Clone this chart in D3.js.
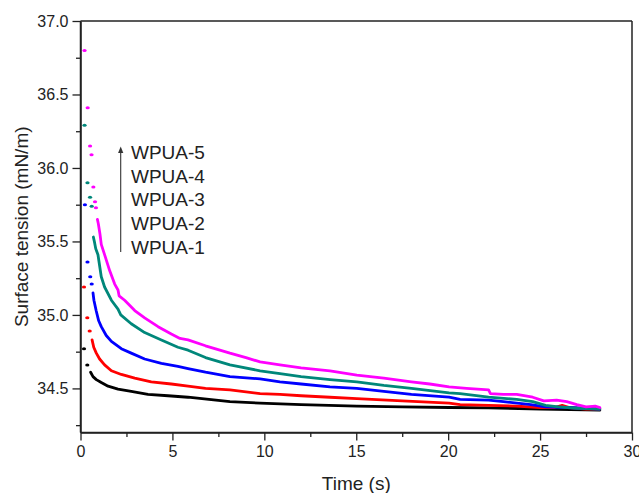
<!DOCTYPE html>
<html>
<head>
<meta charset="utf-8">
<script src="https://cdn.jsdelivr.net/npm/d3@7"></script>
<style>
  html, body { margin: 0; padding: 0; background: #fff; }
  svg { display: block; font-family: "Liberation Sans", Arial, sans-serif; }
</style>
</head>
<body>
<svg id="chart" width="639" height="493"></svg>
<script>
// ---- Data ----
const seriesNames = ["WPUA-1", "WPUA-2", "WPUA-3", "WPUA-4", "WPUA-5"];
const seriesColors = ["#000000", "#ff0000", "#0000ff", "#00877a", "#ff00ff"];

const xTicks = [0, 5, 10, 15, 20, 25, 30];
const yTicks = [34.5, 35.0, 35.5, 36.0, 36.5, 37.0];

// sparse early points (drawn as separate dots)
const wpua1DotT = [0.19, 0.37];
const wpua1DotV = [34.77, 34.66];
const wpua2DotT = [0.19, 0.37, 0.50];
const wpua2DotV = [35.19, 34.98, 34.89];
const wpua3DotT = [0.24, 0.38, 0.53, 0.61];
const wpua3DotV = [35.75, 35.36, 35.26, 35.21];
const wpua4DotT = [0.22, 0.38, 0.52, 0.61];
const wpua4DotV = [36.29, 35.90, 35.80, 35.74];
const wpua5DotT = [0.22, 0.39, 0.52, 0.60, 0.70, 0.79, 0.84];
const wpua5DotV = [36.80, 36.41, 36.15, 36.09, 35.87, 35.77, 35.73];

// dense traces
const wpua1T = [0.55, 0.68, 0.86, 1.13, 1.50, 2.04, 2.76, 3.67, 4.76, 5.85, 8.13, 9.77, 12.0, 15.03, 17.5, 20.05, 22.2, 25.05, 28.25];
const wpua1V = [34.61, 34.58, 34.56, 34.54, 34.515, 34.495, 34.48, 34.46, 34.45, 34.44, 34.41, 34.40, 34.39, 34.38, 34.375, 34.37, 34.368, 34.36, 34.352];

const wpua2T = [0.63, 0.72, 0.86, 1.04, 1.31, 1.68, 2.22, 2.95, 3.85, 4.94, 5.85, 6.80, 8.13, 9.77, 10.85, 12.0, 13.57, 15.03, 17.5, 20.05, 20.65, 22.2, 23.7, 25.0, 25.8, 26.2, 26.6, 27.5, 28.25];
const wpua2V = [34.83, 34.78, 34.74, 34.70, 34.66, 34.62, 34.595, 34.57, 34.545, 34.53, 34.515, 34.50, 34.49, 34.465, 34.46, 34.45, 34.44, 34.43, 34.415, 34.40, 34.39, 34.385, 34.38, 34.37, 34.37, 34.385, 34.37, 34.36, 34.36];

const wpua3T = [0.68, 0.73, 0.85, 0.99, 1.13, 1.40, 1.68, 2.22, 2.76, 3.49, 4.40, 5.30, 5.85, 6.80, 8.13, 9.77, 10.85, 12.0, 13.57, 15.03, 16.5, 18.0, 20.05, 20.65, 22.2, 23.0, 24.5, 25.3, 26.5, 28.25];
const wpua3V = [35.15, 35.10, 35.03, 34.96, 34.92, 34.86, 34.82, 34.77, 34.74, 34.70, 34.67, 34.65, 34.635, 34.61, 34.58, 34.565, 34.545, 34.53, 34.51, 34.50, 34.48, 34.46, 34.44, 34.425, 34.42, 34.41, 34.39, 34.375, 34.37, 34.36];

const wpua4T = [0.70, 0.77, 0.83, 0.95, 1.13, 1.31, 1.68, 2.04, 2.19, 2.76, 3.49, 4.40, 5.30, 5.85, 6.80, 8.13, 9.77, 10.85, 12.0, 13.57, 15.03, 16.5, 18.0, 20.05, 20.65, 22.2, 23.73, 24.6, 25.3, 26.0, 27.0, 28.25];
const wpua4V = [35.53, 35.49, 35.45, 35.41, 35.26, 35.19, 35.10, 35.04, 35.00, 34.94, 34.88, 34.83, 34.78, 34.76, 34.71, 34.66, 34.62, 34.60, 34.58, 34.56, 34.545, 34.52, 34.50, 34.47, 34.465, 34.44, 34.425, 34.41, 34.385, 34.375, 34.365, 34.36];

const wpua5T = [0.92, 0.97, 1.06, 1.13, 1.31, 1.59, 1.86, 2.04, 2.10, 2.40, 2.95, 3.49, 4.22, 4.94, 5.41, 5.85, 6.80, 8.13, 9.00, 9.77, 10.85, 12.0, 13.57, 15.03, 16.5, 18.0, 19.0, 20.05, 21.0, 22.2, 22.3, 23.0, 23.73, 24.6, 25.2, 25.9, 26.45, 27.0, 27.5, 28.0, 28.25];
const wpua5V = [35.65, 35.62, 35.55, 35.48, 35.41, 35.30, 35.21, 35.17, 35.13, 35.10, 35.03, 34.98, 34.92, 34.87, 34.84, 34.83, 34.79, 34.74, 34.71, 34.68, 34.66, 34.64, 34.62, 34.59, 34.57, 34.545, 34.53, 34.51, 34.50, 34.49, 34.465, 34.46, 34.46, 34.44, 34.415, 34.42, 34.41, 34.39, 34.375, 34.38, 34.37];

const dotsT = [wpua1DotT, wpua2DotT, wpua3DotT, wpua4DotT, wpua5DotT];
const dotsV = [wpua1DotV, wpua2DotV, wpua3DotV, wpua4DotV, wpua5DotV];
const traceT = [wpua1T, wpua2T, wpua3T, wpua4T, wpua5T];
const traceV = [wpua1V, wpua2V, wpua3V, wpua4V, wpua5V];

// ---- Layout ----
const svg = d3.select("#chart");
const pL = 80.5, pR = 632, pT = 21, pB = 432.5;
const axisColor = "#222";

const x = d3.scaleLinear().domain([0, 30]).range([pL, pR]);
const y = d3.scaleLinear().domain([34.2, 37.0]).range([pB, pT]);

// frame (top and right lines)
svg.append("line").attr("x1", pL).attr("x2", pR).attr("y1", pT).attr("y2", pT)
  .attr("stroke", axisColor).attr("stroke-width", 1.5);
svg.append("line").attr("x1", pR).attr("x2", pR).attr("y1", pT).attr("y2", pB)
  .attr("stroke", axisColor).attr("stroke-width", 1.5);

// minor ticks
const xMinor = d3.range(2.5, 30, 5);
const yMinor = d3.range(34.25, 37.0, 0.5);

const xAxis = d3.axisBottom(x).tickValues(xTicks).tickFormat(d3.format("d")).tickSizeInner(8).tickSizeOuter(0).tickPadding(5);
const gx = svg.append("g").attr("transform", `translate(0,${pB})`).call(xAxis);
const gxm = svg.append("g").attr("transform", `translate(0,${pB})`)
  .call(d3.axisBottom(x).tickValues(xMinor).tickFormat("").tickSizeInner(4.5).tickSizeOuter(0));

const yAxis = d3.axisLeft(y).tickValues(yTicks).tickFormat(d3.format(".1f")).tickSizeInner(8).tickSizeOuter(0).tickPadding(4);
const gy = svg.append("g").attr("transform", `translate(${pL},0)`).call(yAxis);
const gym = svg.append("g").attr("transform", `translate(${pL},0)`)
  .call(d3.axisLeft(y).tickValues(yMinor).tickFormat("").tickSizeInner(4.5).tickSizeOuter(0));

[gx, gxm, gy, gym].forEach(g => {
  g.select(".domain").attr("stroke", axisColor).attr("stroke-width", 1.5);
  g.selectAll(".tick line").attr("stroke", axisColor).attr("stroke-width", 1.3);
  g.selectAll(".tick text").attr("fill", axisColor).style("font-size", "16px")
    .style("font-family", "'Liberation Sans', Arial, sans-serif");
});
gx.select(".domain").attr("d", `M${pL},0H${pR}`);
gy.select(".domain").attr("d", `M0,${pB}V${pT}`);

// axis titles
svg.append("text").attr("x", (pL + pR) / 2).attr("y", 490)
  .attr("text-anchor", "middle").attr("fill", axisColor).style("font-size", "19px")
  .text("Time (s)");
svg.append("text").attr("transform", `translate(28,${(pT + pB) / 2}) rotate(-90)`)
  .attr("text-anchor", "middle").attr("fill", axisColor).style("font-size", "19px")
  .text("Surface tension (mN/m)");

// ---- Series ----
const line = d3.line().x(d => x(d[0])).y(d => y(d[1]));
const plot = svg.append("g");
for (let i = 0; i < seriesNames.length; i++) {
  const pts = traceT[i].map((t, j) => [t, traceV[i][j]]);
  plot.append("path").datum(pts).attr("d", line)
    .attr("fill", "none").attr("stroke", seriesColors[i])
    .attr("stroke-width", 2.8).attr("stroke-linejoin", "round").attr("stroke-linecap", "round");
  const dp = dotsT[i].map((t, j) => [t, dotsV[i][j]]);
  plot.selectAll(null).data(dp).enter().append("ellipse")
    .attr("cx", d => x(d[0])).attr("cy", d => y(d[1]))
    .attr("rx", 2.1).attr("ry", 1.5).attr("fill", seriesColors[i]);
}

// ---- Legend (arrow + labels) ----
const legX = 120.7;
svg.append("line").attr("x1", legX).attr("x2", legX).attr("y1", 252).attr("y2", 151)
  .attr("stroke", "#333").attr("stroke-width", 1.1);
svg.append("path").attr("d", `M${legX},146.5 L${legX - 2.6},153 L${legX + 2.6},153 Z`).attr("fill", "#333");
const legendOrder = seriesNames.slice().reverse();
svg.selectAll(".leg").data(legendOrder).enter().append("text")
  .attr("class", "leg")
  .attr("x", 131).attr("y", (d, i) => 159 + i * 23.7)
  .attr("fill", axisColor).style("font-size", "19px")
  .text(d => d);
</script>
</body>
</html>
